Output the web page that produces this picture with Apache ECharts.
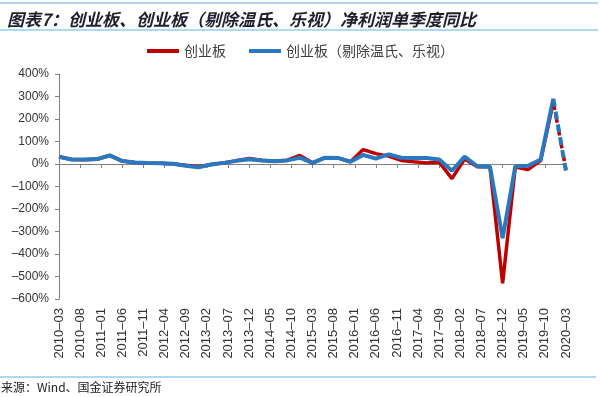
<!DOCTYPE html>
<html>
<head>
<meta charset="utf-8">
<script src="https://cdn.jsdelivr.net/npm/echarts@6/dist/echarts.min.js"></script>
<style>
  html, body { margin: 0; padding: 0; background: #fff; }
  #chart { width: 600px; height: 397px; }
</style>
</head>
<body>
<div id="chart"></div>
<script>
  // quarterly dates, values in %
  const quarters = [
    '2010-03', '2010-06', '2010-09', '2010-12', '2011-03', '2011-06', '2011-09', '2011-12',
    '2012-03', '2012-06', '2012-09', '2012-12', '2013-03', '2013-06', '2013-09', '2013-12',
    '2014-03', '2014-06', '2014-09', '2014-12', '2015-03', '2015-06', '2015-09', '2015-12',
    '2016-03', '2016-06', '2016-09', '2016-12', '2017-03', '2017-06', '2017-09', '2017-12',
    '2018-03', '2018-06', '2018-09', '2018-12', '2019-03', '2019-06', '2019-09', '2019-12',
    '2020-03'
  ];
  const gem = [
    32, 20, 19, 21, 38, 13, 7, 4,
    3, 0, -6, -12, -2, 5, 15, 24,
    17, 12, 17, 38, 5, 28, 27, 10,
    64, 46, 35, 16, 10, 5, 8, -65,
    22, -12, -12, -530, -13, -25, 15, 275,
    -25
  ];
  const gemEx = [
    32, 20, 20, 22, 38, 13, 7, 4,
    3, 1, -8, -15, -2, 5, 14, 21,
    16, 12, 16, 28, 5, 28, 27, 10,
    40, 24, 43, 28, 27, 27, 20, -30,
    33, -10, -12, -330, -10, -8, 20, 290,
    -33
  ];
  const seriesNames = ['创业板', '创业板（剔除温氏、乐视）'];
  const yTicks = { min: -600, max: 400, step: 100 };

  // monthly axis so labels fall every 5 months
  const months = [];
  for (let y = 2010, m = 3; y < 2020 || (y === 2020 && m <= 3); m++) {
    if (m > 12) { m = 1; y++; if (y === 2020 && m > 3) break; }
    months.push(y + '-' + String(m).padStart(2, '0'));
  }

  function toMonthly(vals, from) {
    const out = months.map(() => null);
    quarters.forEach((q, i) => {
      if (i >= from.start && i <= from.end) out[months.indexOf(q)] = vals[i];
    });
    return out;
  }
  const last = quarters.length - 1;
  const solid = { start: 0, end: last - 1 };
  const dashed = { start: last - 1, end: last };

  const RED = '#c00000';
  const BLUE = '#2a78c0';
  const dash = s => String(s).replace('-', '\u2013');

  const chart = echarts.init(document.getElementById('chart'));
  chart.setOption({
    animation: false,
    textStyle: { fontFamily: 'Liberation Sans, Arial, sans-serif' },
    title: {
      text: '图表7：创业板、创业板（剔除温氏、乐视）净利润单季度同比',
      left: 2, top: 6,
      textStyle: { fontSize: 17, fontWeight: 'bold', fontStyle: 'italic', color: '#1e1e2e', fontFamily: 'Noto Sans CJK SC' }
    },
    graphic: [
      { type: 'line', shape: { x1: 0, y1: 3, x2: 598, y2: 3 }, style: { stroke: '#5ab4e2', lineWidth: 1 } },
      { type: 'line', shape: { x1: 0, y1: 30, x2: 598, y2: 30 }, style: { stroke: '#5ab4e2', lineWidth: 1 } },
      { type: 'line', shape: { x1: 0, y1: 377, x2: 596, y2: 377 }, style: { stroke: '#5ab4e2', lineWidth: 1 } },
      { type: 'text', left: 1, top: 381, style: { text: '来源：Wind、国金证券研究所', fontSize: 12, fill: '#222', fontFamily: 'Noto Sans CJK SC' } }
    ],
    legend: {
      data: seriesNames,
      left: 142, top: 39,
      icon: 'rect', itemWidth: 32, itemHeight: 4, itemGap: 23,
      textStyle: { fontSize: 14, color: '#404040', fontFamily: 'Noto Sans CJK SC' }
    },
    grid: { left: 59, right: 34, top: 74, bottom: 98 },
    xAxis: [
      {
        type: 'category', data: months, boundaryGap: false,
        axisLine: { onZero: true, lineStyle: { color: '#7f7f7f', width: 1 } },
        axisTick: { show: true, interval: 4, length: 4, inside: false, lineStyle: { color: '#7f7f7f' } },
        axisLabel: { show: false }
      },
      {
        type: 'category', data: months, boundaryGap: false, position: 'bottom',
        axisLine: { show: false, onZero: false },
        axisTick: { show: false },
        axisLabel: { interval: 4, rotate: 90, fontSize: 13, color: '#333', margin: 9, formatter: dash }
      }
    ],
    yAxis: {
      type: 'value', min: yTicks.min, max: yTicks.max, interval: yTicks.step,
      axisLine: { show: true, lineStyle: { color: '#7f7f7f' } },
      axisTick: { show: true, length: 4, lineStyle: { color: '#7f7f7f' } },
      splitLine: { show: false },
      axisLabel: { formatter: v => dash(v + '%'), fontSize: 12, color: '#333', margin: 10 }
    },
    series: [
      { name: seriesNames[0], type: 'line', data: toMonthly(gem, solid), connectNulls: true, showSymbol: false, symbol: 'none',
        itemStyle: { color: RED }, lineStyle: { color: RED, width: 3.5 } },
      { name: seriesNames[1], type: 'line', data: toMonthly(gemEx, solid), connectNulls: true, showSymbol: false, symbol: 'none',
        itemStyle: { color: BLUE }, lineStyle: { color: BLUE, width: 4 } },
      { name: seriesNames[0] + '-预测', type: 'line', data: toMonthly(gem, dashed), connectNulls: true, symbol: 'none',
        lineStyle: { color: RED, width: 3.5, type: [8, 5] } },
      { name: seriesNames[1] + '-预测', type: 'line', data: toMonthly(gemEx, dashed), connectNulls: true, symbol: 'none',
        lineStyle: { color: BLUE, width: 4, type: [8, 5] } }
    ]
  });
</script>
</body>
</html>
